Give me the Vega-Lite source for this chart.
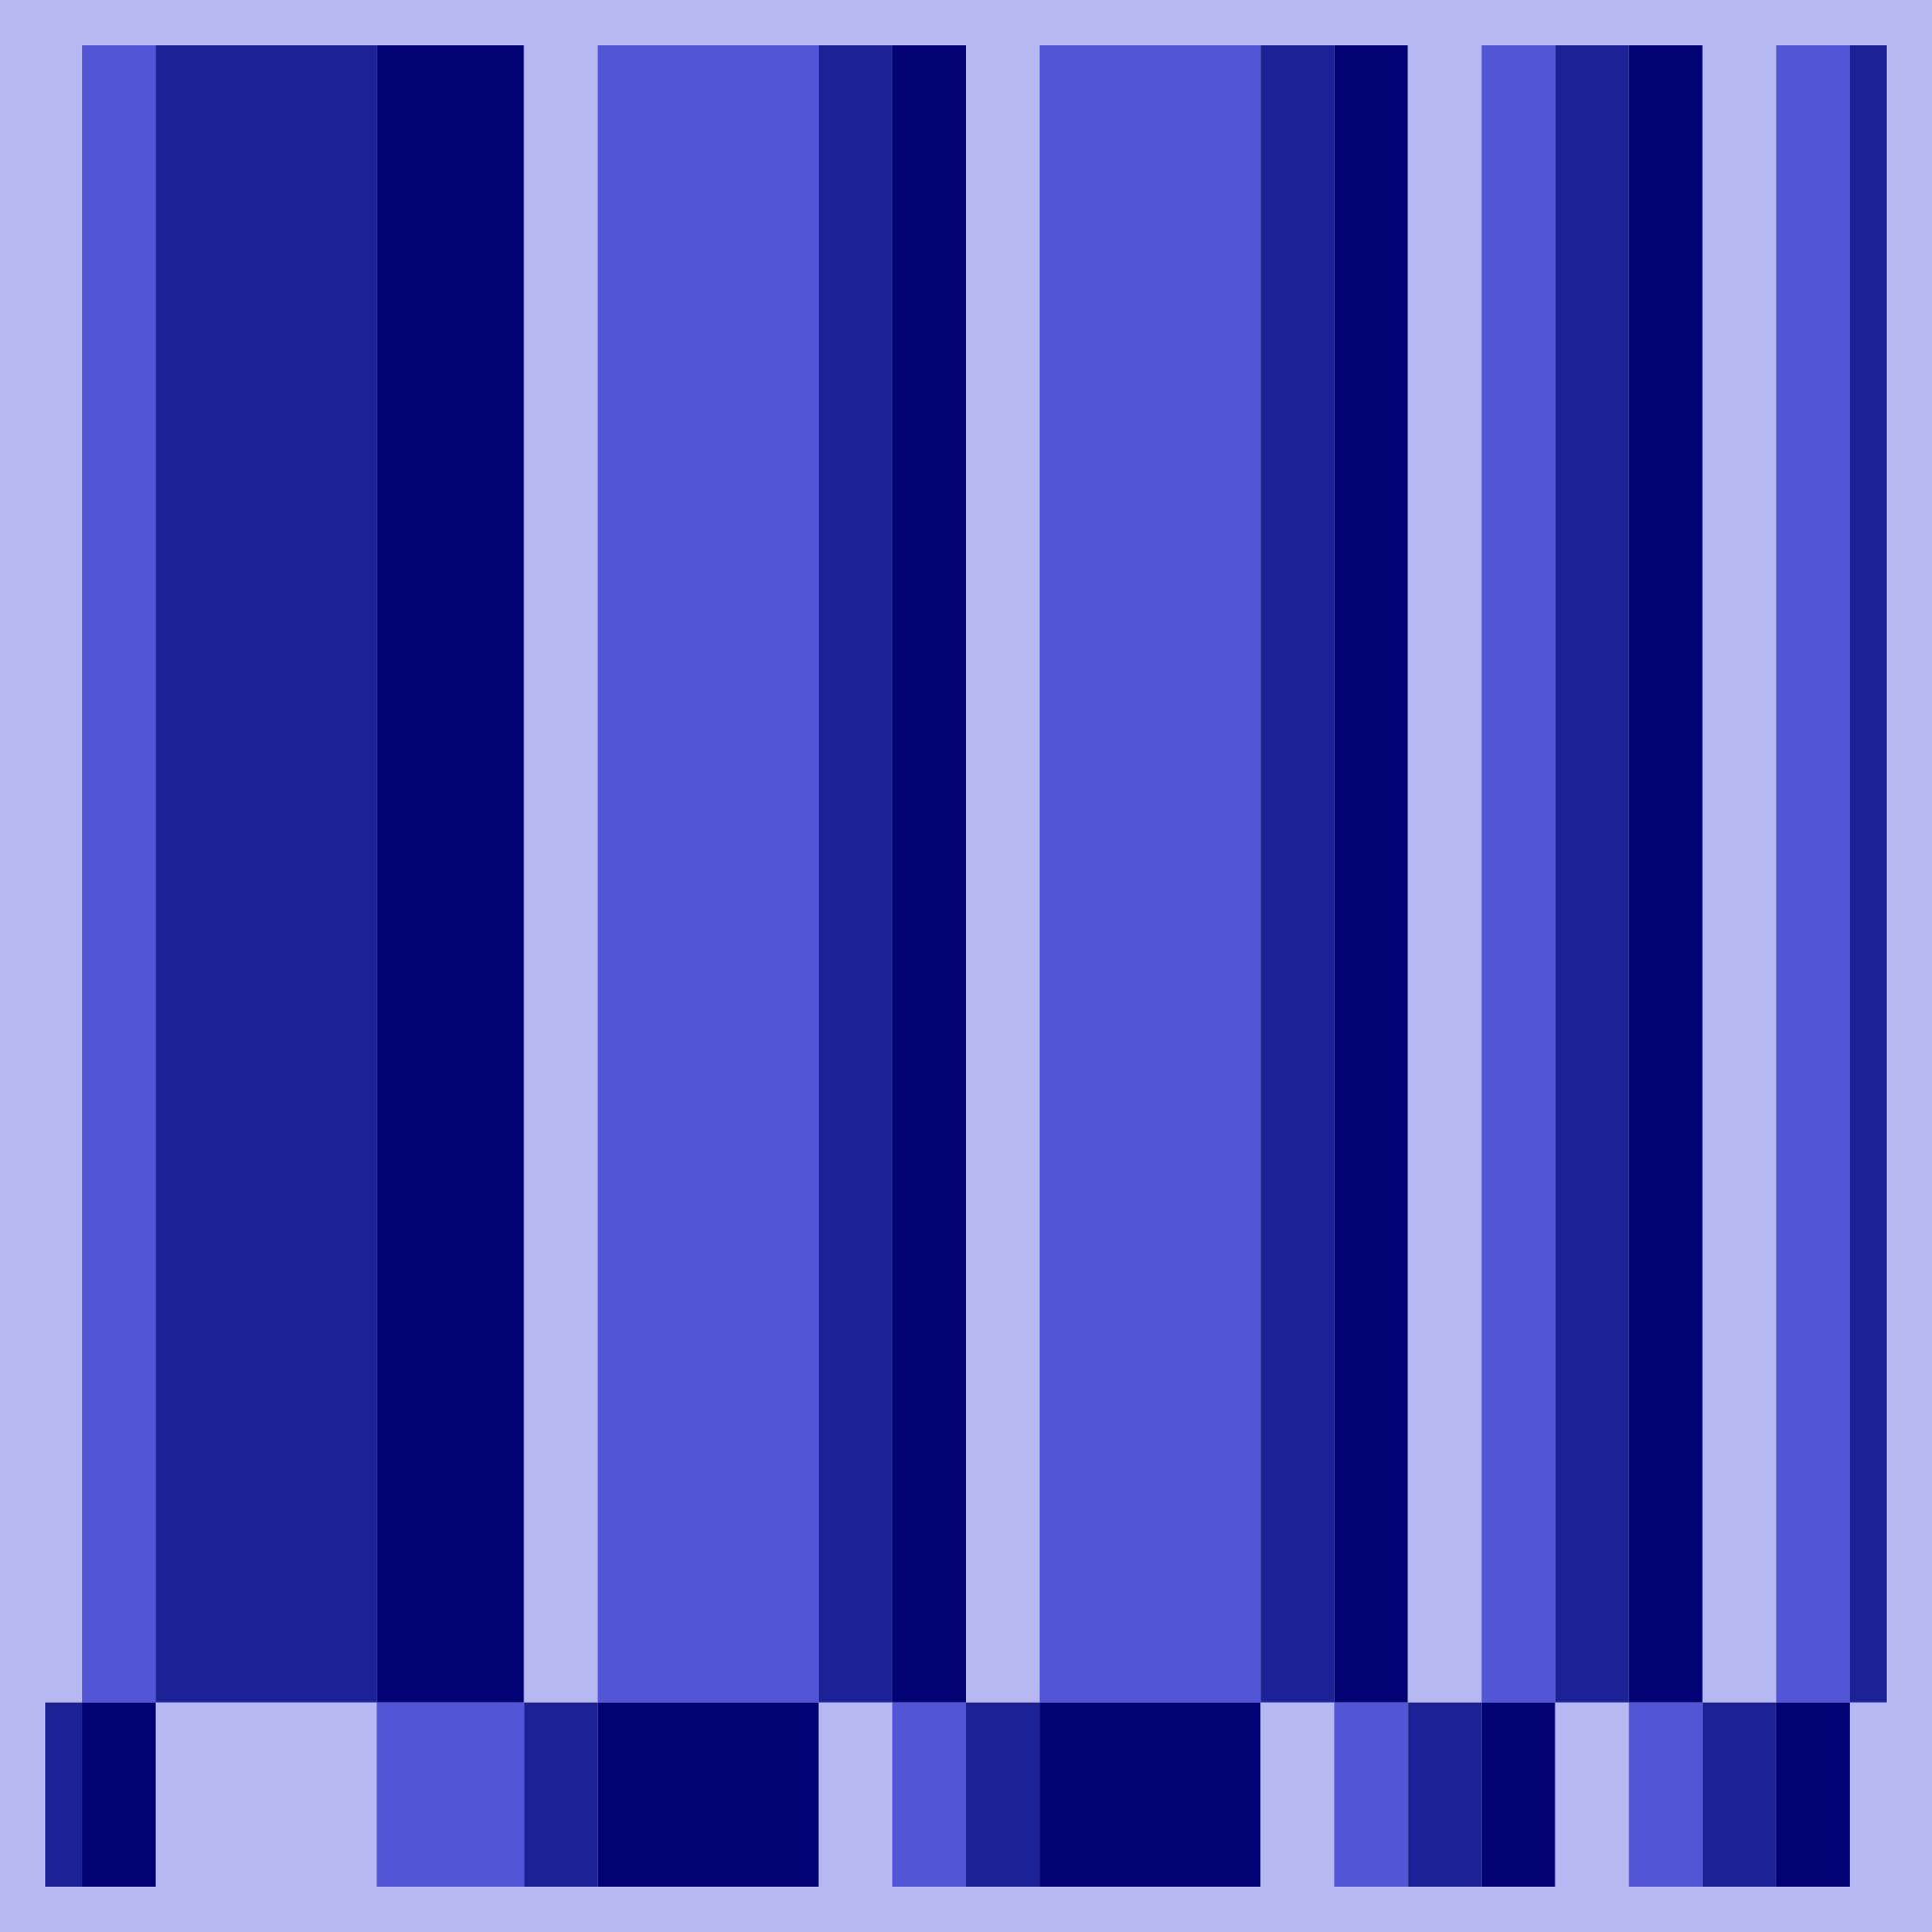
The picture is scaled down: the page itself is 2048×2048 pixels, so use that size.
{
  "$schema": "https://vega.github.io/schema/vega-lite/v6.json",
  "width": 1952,
  "height": 1952,
  "padding": 48,
  "autosize": {"type": "none"},
  "background": "#b6b8f2",
  "config": {"view": {"stroke": null}},
  "data": {
    "values": [
      {"x": -0.5, "x2": 0.5, "y": 1, "y2": 10, "c": "light"},
      {"x": 0.5, "x2": 1.5, "y": 1, "y2": 10, "c": "medium"},
      {"x": 1.5, "x2": 4.5, "y": 1, "y2": 10, "c": "dark"},
      {"x": 4.5, "x2": 6.5, "y": 1, "y2": 10, "c": "navy"},
      {"x": 6.5, "x2": 7.5, "y": 1, "y2": 10, "c": "light"},
      {"x": 7.5, "x2": 10.5, "y": 1, "y2": 10, "c": "medium"},
      {"x": 10.5, "x2": 11.5, "y": 1, "y2": 10, "c": "dark"},
      {"x": 11.5, "x2": 12.5, "y": 1, "y2": 10, "c": "navy"},
      {"x": 12.5, "x2": 13.5, "y": 1, "y2": 10, "c": "light"},
      {"x": 13.5, "x2": 16.5, "y": 1, "y2": 10, "c": "medium"},
      {"x": 16.5, "x2": 17.5, "y": 1, "y2": 10, "c": "dark"},
      {"x": 17.5, "x2": 18.5, "y": 1, "y2": 10, "c": "navy"},
      {"x": 18.5, "x2": 19.5, "y": 1, "y2": 10, "c": "light"},
      {"x": 19.5, "x2": 20.5, "y": 1, "y2": 10, "c": "medium"},
      {"x": 20.5, "x2": 21.5, "y": 1, "y2": 10, "c": "dark"},
      {"x": 21.5, "x2": 22.5, "y": 1, "y2": 10, "c": "navy"},
      {"x": 22.5, "x2": 23.5, "y": 1, "y2": 10, "c": "light"},
      {"x": 23.5, "x2": 24.5, "y": 1, "y2": 10, "c": "medium"},
      {"x": 24.5, "x2": 25.5, "y": 1, "y2": 10, "c": "dark"},
      {"x": -0.5, "x2": 0.5, "y": 0, "y2": 1, "c": "dark"},
      {"x": 0.5, "x2": 1.5, "y": 0, "y2": 1, "c": "navy"},
      {"x": 1.5, "x2": 4.5, "y": 0, "y2": 1, "c": "light"},
      {"x": 4.5, "x2": 6.5, "y": 0, "y2": 1, "c": "medium"},
      {"x": 6.5, "x2": 7.5, "y": 0, "y2": 1, "c": "dark"},
      {"x": 7.5, "x2": 10.5, "y": 0, "y2": 1, "c": "navy"},
      {"x": 10.5, "x2": 11.5, "y": 0, "y2": 1, "c": "light"},
      {"x": 11.5, "x2": 12.5, "y": 0, "y2": 1, "c": "medium"},
      {"x": 12.5, "x2": 13.5, "y": 0, "y2": 1, "c": "dark"},
      {"x": 13.5, "x2": 16.5, "y": 0, "y2": 1, "c": "navy"},
      {"x": 16.5, "x2": 17.5, "y": 0, "y2": 1, "c": "light"},
      {"x": 17.5, "x2": 18.5, "y": 0, "y2": 1, "c": "medium"},
      {"x": 18.5, "x2": 19.5, "y": 0, "y2": 1, "c": "dark"},
      {"x": 19.5, "x2": 20.5, "y": 0, "y2": 1, "c": "navy"},
      {"x": 20.5, "x2": 21.5, "y": 0, "y2": 1, "c": "light"},
      {"x": 21.5, "x2": 22.5, "y": 0, "y2": 1, "c": "medium"},
      {"x": 22.5, "x2": 23.5, "y": 0, "y2": 1, "c": "dark"},
      {"x": 23.5, "x2": 24.5, "y": 0, "y2": 1, "c": "navy"},
      {"x": 24.5, "x2": 25.5, "y": 0, "y2": 1, "c": "light"}
    ]
  },
  "mark": {"type": "rect", "clip": true, "strokeWidth": 0},
  "encoding": {
    "x": {"field": "x", "type": "quantitative", "scale": {"domain": [0, 25], "nice": false, "zero": false}, "axis": null},
    "x2": {"field": "x2"},
    "y": {"field": "y", "type": "quantitative", "scale": {"domain": [0, 10], "nice": false, "zero": false}, "axis": null},
    "y2": {"field": "y2"},
    "color": {
      "field": "c",
      "type": "nominal",
      "scale": {"domain": ["light", "medium", "dark", "navy"], "range": ["#b6b8f2", "#5256d6", "#1c2296", "#020275"]},
      "legend": null
    }
  }
}
